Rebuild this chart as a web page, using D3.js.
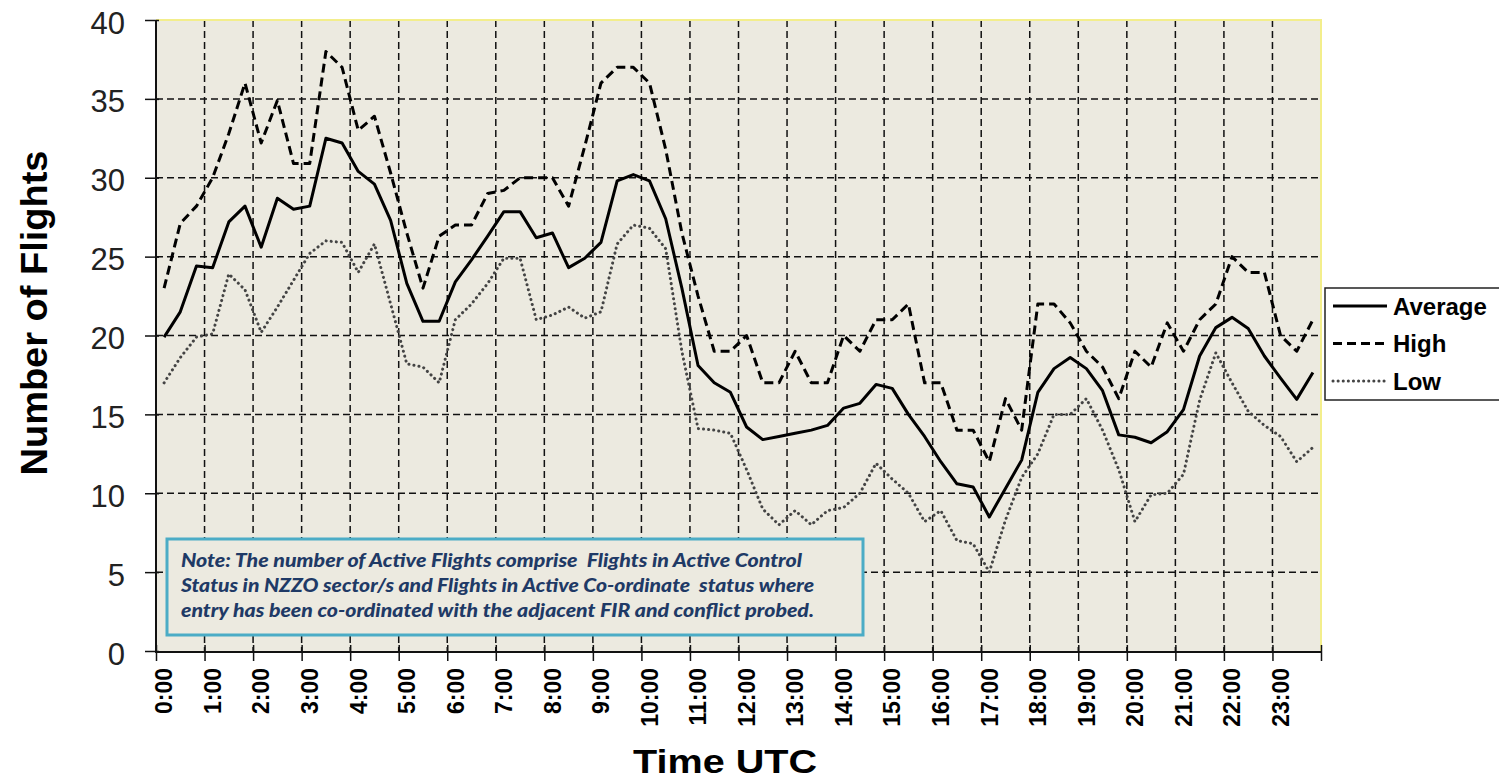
<!DOCTYPE html>
<html>
<head>
<meta charset="utf-8">
<script src="https://cdn.jsdelivr.net/npm/d3@7"></script>
<style>
  body { margin: 0; background: #fff; }
  svg { display: block; }
  text { font-family: "Liberation Sans", Arial, sans-serif; }
</style>
</head>
<body>
<svg width="1499" height="783"></svg>
<script>
// hour tick labels (one label every 3 categories, data is every 20 min)
var hourLabels = ["0:00","1:00","2:00","3:00","4:00","5:00","6:00","7:00","8:00","9:00","10:00","11:00",
  "12:00","13:00","14:00","15:00","16:00","17:00","18:00","19:00","20:00","21:00","22:00","23:00"];
var minutes = ["00", "20", "40"];

var categories = [];
hourLabels.forEach(function(h) {
  minutes.forEach(function(m) { categories.push(h.replace(":00", ":" + m)); });
});

var average = [19.9,21.5,24.4,24.3,27.2,28.2,25.6,28.7,28.0,28.2,32.5,32.2,
  30.4,29.6,27.3,23.3,20.9,20.9,23.4,24.8,26.3,27.85,27.85,26.2,
  26.5,24.3,24.9,25.9,29.8,30.2,29.8,27.4,23.0,18.1,17.0,16.4,
  14.2,13.4,13.6,13.8,14.0,14.3,15.4,15.7,16.9,16.65,15.0,13.6,
  12.0,10.6,10.4,8.5,10.3,12.1,16.4,17.9,18.6,17.9,16.5,13.7,
  13.55,13.2,13.9,15.3,18.7,20.5,21.15,20.45,18.7,17.3,15.95,17.65];

var high = [23,27.1,28.2,30,32.8,36,32.2,34.9,30.9,30.9,38,37,
  33,33.9,30.3,26.5,23,26.3,27,27,29,29.2,30,30,
  30,28.2,32,36,37,37,36,31.8,26.5,22.5,19,19,
  20,17,17,19,17,17,20,19,21,21,22,17,
  17,14,14,12,16,14,22,22,20.8,19,18,16,
  19,18,20.8,19,21,22,25,24,24,20,19,21];

var low = [17,18.6,19.9,20.1,23.9,22.9,20.2,21.8,23.5,25.2,26,25.9,
  24,25.8,22,18.2,18,17,21,22,23.3,24.9,24.9,21,
  21.3,21.8,21.1,21.5,25.8,27,26.8,25.5,19,14.1,14,13.8,
  11.5,9,8,8.9,8,8.9,9.1,10,11.9,10.9,10,8.2,
  8.9,7,6.8,5,8.3,11,12.5,15,15,16,14,11.5,
  8.2,9.9,10,11.2,15.9,18.9,17,15.2,14.3,13.6,12,12.9];

var yTicks = [0, 5, 10, 15, 20, 25, 30, 35, 40];

var noteLines = [
  "Note: The number of Active Flights comprise  Flights in Active Control",
  "Status in NZZO sector/s and Flights in Active Co-ordinate  status where",
  "entry has been co-ordinated with the adjacent FIR and conflict probed."
];

var seriesList = [
  { name: "Average", values: average, dash: null, width: 3, color: "#000", cap: "butt" },
  { name: "High", values: high, dash: "9,5", width: 3, color: "#000", cap: "butt" },
  { name: "Low", values: low, dash: "0.1,5", width: 3, color: "#444", cap: "round" }
];

var svg = d3.select("svg");
var plotL = 156, plotR = 1321, plotT = 20, plotB = 651;

var x = d3.scaleBand().domain(categories).range([plotL, plotR]).padding(0);
var xEdge = d3.scaleLinear().domain([0, categories.length]).range([plotL, plotR]);
var y = d3.scaleLinear().domain([0, 40]).range([plotB, plotT]);
var bw = x.bandwidth();

// plot background
svg.append("rect")
    .attr("x", plotL).attr("y", plotT)
    .attr("width", plotR - plotL).attr("height", plotB - plotT)
    .attr("fill", "#ECEAE0");

// grid
var grid = svg.append("g").attr("class", "grid")
    .attr("stroke", "#111").attr("stroke-width", 1.5).attr("stroke-dasharray", "7,4");
grid.selectAll("line.h")
    .data(yTicks.filter(function(v) { return v > 0 && v < 40; }))
  .enter().append("line")
    .attr("x1", plotL).attr("x2", plotR)
    .attr("y1", function(d) { return y(d); }).attr("y2", function(d) { return y(d); });
grid.selectAll("line.v")
    .data(d3.range(3, categories.length, 3))
  .enter().append("line")
    .attr("x1", function(d) { return xEdge(d); }).attr("x2", function(d) { return xEdge(d); })
    .attr("y1", plotT).attr("y2", plotB);

// pale border top / right
svg.append("path")
    .attr("d", "M" + plotL + "," + plotT + "H" + plotR + "V" + plotB)
    .attr("fill", "none").attr("stroke", "#F3EE8C").attr("stroke-width", 2);

// note box
var note = svg.append("g");
note.append("rect")
    .attr("x", 167).attr("y", 539).attr("width", 696).attr("height", 96)
    .attr("fill", "#ECEAE0").attr("stroke", "#4BACC6").attr("stroke-width", 3);
var noteWidths = [621, 633, 633];
note.selectAll("text")
    .data(noteLines)
  .enter().append("text")
    .attr("x", 181)
    .attr("y", function(d, i) { return 567 + i * 25; })
    .attr("textLength", function(d, i) { return noteWidths[i]; })
    .attr("lengthAdjust", "spacingAndGlyphs")
    .style("white-space", "pre")
    .style("font-family", "Lato, 'Open Sans', sans-serif")
    .style("font-style", "italic")
    .style("font-weight", "900")
    .style("font-size", "19px")
    .attr("fill", "#1F3A66")
    .text(function(d) { return d; });

// series lines
var line = d3.line()
    .x(function(d, i) { return x(categories[i]) + bw / 2; })
    .y(function(d) { return y(d); });

svg.append("g").selectAll("path")
    .data(seriesList.slice().reverse())
  .enter().append("path")
    .attr("d", function(s) { return line(s.values); })
    .attr("fill", "none")
    .attr("stroke", function(s) { return s.color; })
    .attr("stroke-width", function(s) { return s.width; })
    .attr("stroke-dasharray", function(s) { return s.dash; })
    .attr("stroke-linecap", function(s) { return s.cap; })
    .attr("stroke-linejoin", "round");

// y axis
var yAxis = svg.append("g")
    .attr("transform", "translate(" + plotL + ",0)")
    .call(d3.axisLeft(y).tickValues(yTicks).tickSizeInner(11).tickSizeOuter(0).tickPadding(20));
yAxis.select(".domain").remove();
yAxis.selectAll(".tick line").attr("x1", 3).attr("stroke", "#111").attr("stroke-width", 1.5);
yAxis.selectAll(".tick text")
    .attr("dy", "0.42em")
    .attr("fill", "#222")
    .style("font-size", "31px");

// x axis ticks
var xAxis = svg.append("g")
    .attr("transform", "translate(0," + (plotB + 1) + ")")
    .call(d3.axisBottom(xEdge).tickValues(d3.range(0, categories.length + 1, 3))
      .tickSizeInner(9).tickSizeOuter(0).tickFormat(""));
xAxis.select(".domain").remove();
xAxis.selectAll(".tick line").attr("y1", -7).attr("stroke", "#111").attr("stroke-width", 1.5);

// x labels at the category centre of each hour
var xLab = svg.append("g")
    .attr("transform", "translate(0," + (plotB + 1) + ")")
    .call(d3.axisBottom(x).tickValues(hourLabels).tickSize(0));
xLab.select(".domain").remove();
xLab.selectAll(".tick text")
    .attr("transform", "rotate(-90)")
    .attr("x", -16).attr("y", 0).attr("dy", "0.36em")
    .attr("text-anchor", "end")
    .attr("fill", "#000")
    .style("font-size", "23px")
    .style("font-weight", "bold");

// axis lines
svg.append("line").attr("x1", plotL).attr("x2", plotL).attr("y1", plotT).attr("y2", plotB + 1)
    .attr("stroke", "#111").attr("stroke-width", 2);
svg.append("line").attr("x1", plotL - 1).attr("x2", plotR).attr("y1", plotB + 1).attr("y2", plotB + 1)
    .attr("stroke", "#111").attr("stroke-width", 2);

// titles
svg.append("text")
    .attr("transform", "translate(47,313) rotate(-90)")
    .attr("text-anchor", "middle")
    .attr("textLength", 325).attr("lengthAdjust", "spacingAndGlyphs")
    .style("font-size", "36px").style("font-weight", "bold")
    .text("Number of Flights");

svg.append("text")
    .attr("x", 633).attr("y", 773)
    .attr("textLength", 184).attr("lengthAdjust", "spacingAndGlyphs")
    .style("font-size", "34px").style("font-weight", "bold")
    .text("Time UTC");

// legend
var legend = svg.append("g");
legend.append("rect")
    .attr("x", 1325).attr("y", 288).attr("width", 200).attr("height", 112)
    .attr("fill", "#fff").attr("stroke", "#222").attr("stroke-width", 1.5);
var item = legend.selectAll("g.item")
    .data(seriesList)
  .enter().append("g")
    .attr("transform", function(d, i) { return "translate(0," + (306 + i * 37.5) + ")"; });
item.append("line")
    .attr("x1", 1333).attr("x2", 1387)
    .attr("stroke", function(s) { return s.color; })
    .attr("stroke-width", function(s) { return s.width; })
    .attr("stroke-dasharray", function(s) { return s.dash; })
    .attr("stroke-linecap", function(s) { return s.cap; });
item.append("text")
    .attr("x", 1393).attr("dy", "0.36em")
    .style("font-size", "24px").style("font-weight", "bold")
    .text(function(s) { return s.name; });
</script>
</body>
</html>
